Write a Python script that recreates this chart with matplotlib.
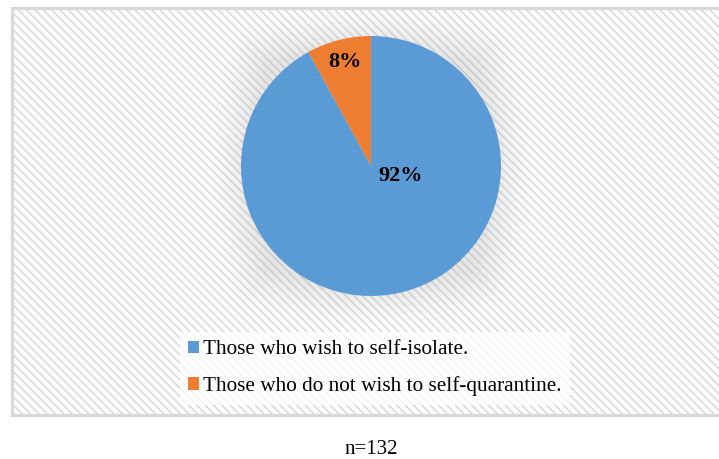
import numpy as np
import matplotlib.pyplot as plt
from matplotlib.patches import Rectangle, Patch

plt.rcParams['font.family'] = ['Liberation Serif', 'DejaVu Serif']
plt.rcParams['hatch.color'] = '#f2f2f2'
plt.rcParams['hatch.linewidth'] = 1.1

labels = ['Those who wish to self-isolate.',
          'Those who do not wish to self-quarantine.']
shares = [92, 8]
colors = ['#5b9bd5', '#ed7d31']
sample_note = 'n=132'

W, H = 719, 459
fig = plt.figure(figsize=(W / 100, H / 100), dpi=100)
fig.patch.set_facecolor('white')

# chart area frame with the diagonal texture
bg = fig.add_axes([0, 0, 1, 1])
bg.set_xlim(0, W)
bg.set_ylim(H, 0)
bg.axis('off')
bg.add_patch(Rectangle((12, 8), 720, 407, facecolor='#fdfdfd',
                       edgecolor='#d9d9d9', linewidth=2.2, hatch='\\\\\\\\',
                       zorder=1))
bg.add_patch(Rectangle((12, 8), 720, 407, facecolor='none',
                       edgecolor='#d9d9d9', linewidth=2.2, zorder=2))

# soft glow behind the pie
cx, cy, r = 371, 166, 130
yy, xx = np.mgrid[0:H, 0:W]
d = np.maximum(np.abs(xx - cx), np.abs(yy - cy)) * 0.6 + \
    np.hypot(xx - cx, yy - cy) * 0.4
glow = np.clip(1 - (d - r + 10) / 45, 0, 1) ** 1.5
rgba = np.zeros((H, W, 4))
rgba[..., :3] = 0.55
rgba[..., 3] = glow * 0.2
bg.imshow(rgba, extent=(0, W, H, 0), zorder=3, interpolation='bilinear')

# the pie itself
ax = fig.add_axes([(cx - r) / W, 1 - (cy + r) / H, 2 * r / W, 2 * r / H])
ax.set_zorder(5)
wedges, _ = ax.pie(shares, colors=colors, startangle=90, counterclock=False,
                   radius=1.0)
ax.set_xlim(-1, 1)
ax.set_ylim(-1, 1)
ax.set_aspect('auto')

# percentage labels
ax.text(0.23, -0.08, f'{shares[0]}%', ha='center', va='center',
        fontsize=16, fontweight='bold')
ax.text(-0.2, 0.8, f'{shares[1]}%', ha='center', va='center',
        fontsize=16, fontweight='bold')

handles = [Patch(facecolor=c, edgecolor='none') for c in colors]
leg = fig.legend(handles, labels, loc='upper left',
                 bbox_to_anchor=(169 / W, 1 - 321 / H), frameon=True,
                 fancybox=False, framealpha=0.75, facecolor='white',
                 edgecolor='none', borderpad=0.4,
                 fontsize=15.3, handlelength=0.5, handleheight=0.5,
                 handletextpad=0.2, labelspacing=0.8)
leg.set_zorder(6)

fig.text(371 / W, 1 - 449 / H, sample_note, ha='center', va='center',
         fontsize=15)

fig.savefig('out.png', dpi=100)
